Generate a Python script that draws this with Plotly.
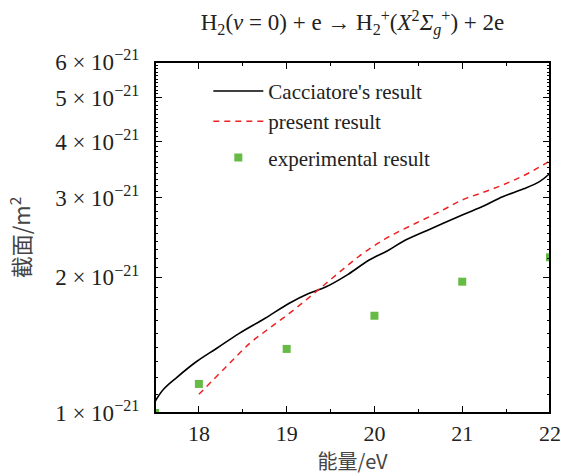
import plotly.graph_objects as go

# Data
cac_x = [17.5, 17.59, 17.75, 17.97, 18.2, 18.46, 18.75, 19.03, 19.25, 19.45, 19.7, 19.94, 20.15, 20.32, 20.6, 21.0, 21.25, 21.46, 21.7, 21.88, 22.0]
cac_y = [1.06e-21, 1.125e-21, 1.2e-21, 1.299e-21, 1.39e-21, 1.502e-21, 1.62e-21, 1.751e-21, 1.84e-21, 1.905e-21, 2.03e-21, 2.184e-21, 2.29e-21, 2.398e-21, 2.54e-21, 2.748e-21, 2.88e-21, 3.017e-21, 3.14e-21, 3.258e-21, 3.40e-21]

pres_x = [18.0, 18.3, 18.58, 18.8, 19.03, 19.25, 19.45, 19.65, 19.87, 20.15, 20.47, 20.75, 21.0, 21.25, 21.46, 21.7, 22.0]
pres_y = [1.10e-21, 1.26e-21, 1.427e-21, 1.54e-21, 1.663e-21, 1.80e-21, 1.939e-21, 2.09e-21, 2.26e-21, 2.45e-21, 2.634e-21, 2.80e-21, 2.967e-21, 3.09e-21, 3.203e-21, 3.36e-21, 3.62e-21]

exp_x = [17.5, 18.0, 19.0, 20.0, 21.0, 22.0]
exp_y = [1.0e-21, 1.16e-21, 1.387e-21, 1.643e-21, 1.955e-21, 2.214e-21]

ytick_vals = [1e-21, 2e-21, 3e-21, 4e-21, 5e-21, 6e-21]
ytick_text = ["1 × 10<sup>−21</sup>", "2 × 10<sup>−21</sup>", "3 × 10<sup>−21</sup>",
              "4 × 10<sup>−21</sup>", "5 × 10<sup>−21</sup>", "6 × 10<sup>−21</sup>"]
yminor_vals = [k * 1e-22 for k in range(10, 61)]
xtick_vals = [18, 19, 20, 21, 22]
xtick_text = ["18", "19", "20", "21", "22"]

FONT = "Liberation Serif"
CJK = "Noto Sans CJK SC"
XRANGE = [17.5, 22]
YRANGE = [-21, -20.2218]

fig = go.Figure()
fig.add_trace(go.Scatter(x=cac_x, y=cac_y, mode="lines", name="Cacciatore's result",
                         line=dict(color="black", width=1.6, shape="spline"),
                         legendgroup="a"))
fig.add_trace(go.Scatter(x=pres_x, y=pres_y, mode="lines", name="present result",
                         line=dict(color="#ee2222", width=1.5, dash="6px,5px", shape="spline"),
                         legendgroup="a"))
fig.add_trace(go.Scatter(x=exp_x, y=exp_y, mode="markers", name="experimental result",
                         marker=dict(color="#66bb44", size=8, symbol="square"),
                         legendgroup="b"))
# empty helper traces so the tick-only axes render
for xa, ya in [("x", "y2"), ("x2", "y"), ("x", "y3"), ("x", "y4")]:
    fig.add_trace(go.Scatter(x=[None], y=[None], xaxis=xa, yaxis=ya,
                             showlegend=False, hoverinfo="skip"))

tick_common = dict(ticks="inside", tickwidth=1, tickcolor="black",
                   showgrid=False, zeroline=False, automargin=False)

fig.update_layout(
    width=561, height=476,
    margin=dict(l=155, r=11, t=62, b=63, autoexpand=False),
    paper_bgcolor="white", plot_bgcolor="rgba(0,0,0,0)",
    font=dict(family=FONT, size=17, color="#222"),
    title=dict(text="H<sub>2</sub>(<i>v</i> = 0) + e → H<sub>2</sub><sup>+</sup>(<i>X</i><sup>2</sup><i>Σ</i><sub><i>g</i></sub><sup>+</sup>) + 2e",
               x=0.5, xanchor="center", xref="paper", y=0.953, yanchor="middle",
               font=dict(family=FONT, size=23, color="#222")),
    showlegend=True,
    legend=dict(x=0.135, y=0.975, xanchor="left", yanchor="top", bgcolor="rgba(0,0,0,0)",
                font=dict(family=FONT, size=21, color="#222"),
                traceorder="grouped", tracegroupgap=6, itemwidth=50),
    shapes=[dict(type="rect", xref="paper", yref="paper", x0=0, y0=0, x1=1, y1=1,
                 line=dict(color="black", width=2), fillcolor="rgba(0,0,0,0)", layer="above")],
    xaxis=dict(range=XRANGE, tickmode="array", tickvals=xtick_vals, ticktext=xtick_text,
               ticklen=7, showline=True, linecolor="black", linewidth=1.2,
               ticklabeloverflow="allow",
               tickfont=dict(family=FONT, size=22, color="#222"),
               title=dict(text="能量/eV", font=dict(family=CJK, size=20, color="#444"), standoff=2),
               minor=dict(dtick=0.5, tick0=17.5, ticks="inside", ticklen=4, tickcolor="black", showgrid=False),
               **tick_common),
    xaxis2=dict(range=XRANGE, overlaying="x", side="top", tickmode="array", tickvals=xtick_vals,
                showticklabels=False, ticklen=7, showline=True, linecolor="black", linewidth=1.2,
                minor=dict(dtick=0.5, tick0=17.5, ticks="inside", ticklen=4, tickcolor="black", showgrid=False),
                **tick_common),
    yaxis=dict(type="log", range=YRANGE, tickmode="array", tickvals=ytick_vals, ticktext=ytick_text,
               ticklen=7, showline=True, linecolor="black", linewidth=1.2,
               ticklabelstandoff=10,
               tickfont=dict(family=FONT, size=23, color="#222"),
               title=dict(text="截面/m<sup>2</sup>", font=dict(family=CJK, size=22, color="#444"), standoff=18),
               **tick_common),
    yaxis2=dict(type="log", range=YRANGE, overlaying="y", side="left",
                tickmode="array", tickvals=yminor_vals, showticklabels=False,
                ticklen=3, showline=False, **tick_common),
    yaxis3=dict(type="log", range=YRANGE, overlaying="y", side="right",
                tickmode="array", tickvals=ytick_vals, showticklabels=False,
                ticklen=7, showline=True, linecolor="black", linewidth=1.2, **tick_common),
    yaxis4=dict(type="log", range=YRANGE, overlaying="y", side="right",
                tickmode="array", tickvals=yminor_vals, showticklabels=False,
                ticklen=3, showline=False, **tick_common),
)

fig.write_html("out.html")
